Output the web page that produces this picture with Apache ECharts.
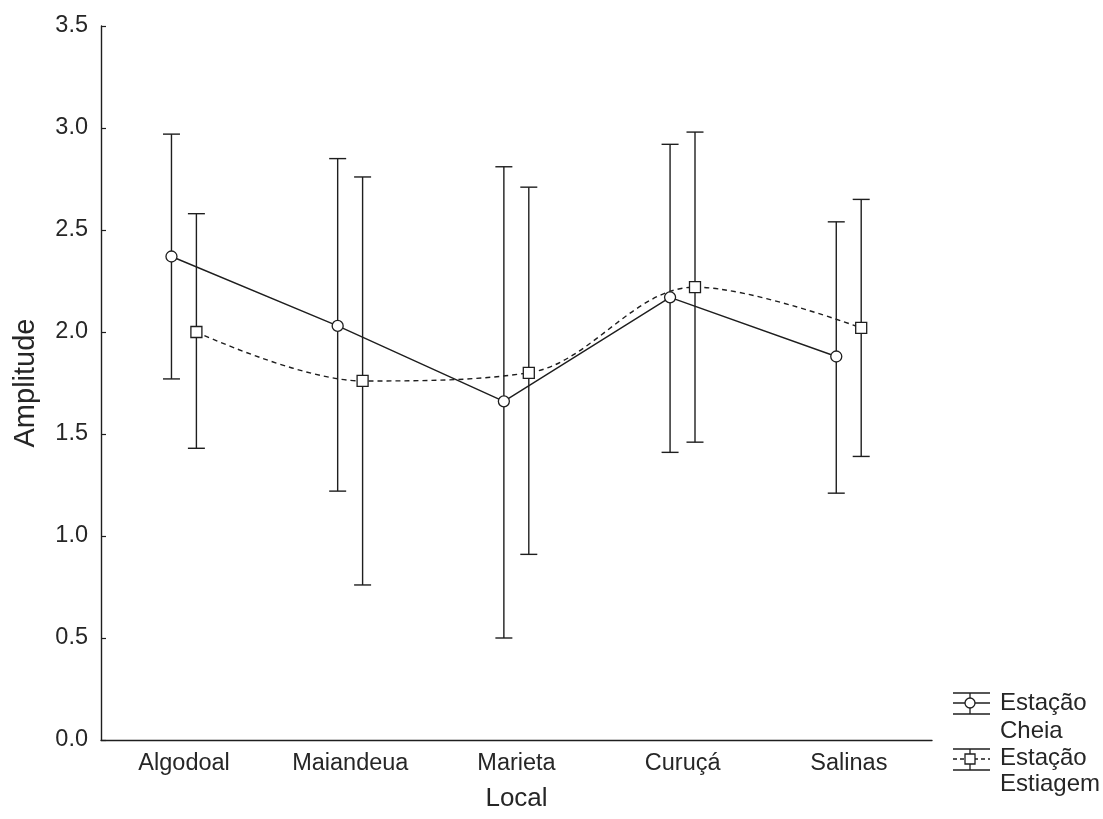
<!DOCTYPE html>
<html>
<head>
<meta charset="utf-8">
<script src="https://cdn.jsdelivr.net/npm/echarts@6/dist/echarts.min.js"></script>
<style>
html,body{margin:0;padding:0;background:#fff;}
#chart{width:1103px;height:819px;}
</style>
</head>
<body>
<div id="chart"></div>
<script>
var categories = ['Algodoal', 'Maiandeua', 'Marieta', 'Curuçá', 'Salinas'];
var cheiaMean  = [2.37, 2.03, 1.66, 2.17, 1.88];
var cheiaUpper = [2.97, 2.85, 2.81, 2.92, 2.54];
var cheiaLower = [1.77, 1.22, 0.50, 1.41, 1.21];
var estiMean   = [2.00, 1.76, 1.80, 2.22, 2.02];
var estiUpper  = [2.58, 2.76, 2.71, 2.98, 2.65];
var estiLower  = [1.43, 0.76, 0.91, 1.46, 1.39];
var yTicks = [0, 0.5, 1.0, 1.5, 2.0, 2.5, 3.0, 3.5];

var FONT = '"Liberation Sans", Arial, sans-serif';
var INK = '#1e1e1e';
var TXT = '#262626';
var OFF_CHEIA = -0.076, OFF_ESTI = 0.074;

function pts(mean, off) { return mean.map(function (v, i) { return [i + 1 + off, v]; }); }
function bars(lo, hi, off) { return lo.map(function (v, i) { return [i + 1 + off, v, hi[i]]; }); }

function renderErr(params, api) {
  var x = api.value(0);
  var lo = api.coord([x, api.value(1)]);
  var hi = api.coord([x, api.value(2)]);
  var hw = 8.5;
  var st = { stroke: INK, lineWidth: 1.4 };
  return {
    type: 'group',
    children: [
      { type: 'line', shape: { x1: lo[0], y1: lo[1], x2: hi[0], y2: hi[1] }, style: st },
      { type: 'line', shape: { x1: hi[0] - hw, y1: hi[1], x2: hi[0] + hw, y2: hi[1] }, style: st },
      { type: 'line', shape: { x1: lo[0] - hw, y1: lo[1], x2: lo[0] + hw, y2: lo[1] }, style: st }
    ]
  };
}

var chart = echarts.init(document.getElementById('chart'));
var lx1 = 953, lx2 = 990, lc = 970;
var legendFont = '24px "Liberation Sans", Arial, sans-serif';
chart.setOption({
  animation: false,
  backgroundColor: '#fff',
  grid: { left: 101, right: 171, top: 26, bottom: 79 },
  xAxis: [{
    type: 'category', data: categories, boundaryGap: true,
    axisLine: { lineStyle: { color: INK, width: 1.4 } },
    axisTick: { inside: true, alignWithLabel: true, length: 5, lineStyle: { color: INK, width: 1.2 } },
    axisLabel: { fontSize: 23.5, color: TXT, margin: 12, fontFamily: FONT },
    name: 'Local', nameLocation: 'middle', nameGap: 46,
    nameTextStyle: { fontSize: 26, color: TXT, fontFamily: FONT },
    splitLine: { show: false }
  }, {
    type: 'value', min: 0.5, max: 5.5, show: false
  }],
  yAxis: {
    type: 'value', min: 0, max: 3.5, interval: 0.5,
    axisLine: { show: true, lineStyle: { color: INK, width: 1.4 } },
    axisTick: { show: true, inside: true, length: 5, lineStyle: { color: INK, width: 1.2 } },
    axisLabel: { fontSize: 23.5, color: TXT, margin: 13, fontFamily: FONT,
      formatter: function (v) { return yTicks.indexOf(v) >= 0 ? v.toFixed(1) : ''; } },
    splitLine: { show: false },
    name: 'Amplitude', nameLocation: 'middle', nameGap: 61, nameRotate: 90,
    nameTextStyle: { fontSize: 29, color: TXT, fontFamily: FONT }
  },
  series: [
    { type: 'custom', xAxisIndex: 1, renderItem: renderErr, data: bars(cheiaLower, cheiaUpper, OFF_CHEIA), z: 2, silent: true },
    { type: 'custom', xAxisIndex: 1, renderItem: renderErr, data: bars(estiLower, estiUpper, OFF_ESTI), z: 2, silent: true },
    { type: 'line', xAxisIndex: 1, data: pts(cheiaMean, OFF_CHEIA), symbol: 'circle', symbolSize: 11,
      itemStyle: { color: '#fff', borderColor: INK, borderWidth: 1.3 },
      lineStyle: { color: INK, width: 1.4 }, z: 3 },
    { type: 'line', xAxisIndex: 1, data: pts(estiMean, OFF_ESTI), symbol: 'rect', symbolSize: 11, smooth: 0.35,
      itemStyle: { color: '#fff', borderColor: INK, borderWidth: 1.3 },
      lineStyle: { color: INK, width: 1.4, type: [5, 4] }, z: 3 }
  ],
  graphic: [
    { type: 'line', shape: { x1: lx1, y1: 693, x2: lx2, y2: 693 }, style: { stroke: INK, lineWidth: 1.3 } },
    { type: 'line', shape: { x1: lx1, y1: 714, x2: lx2, y2: 714 }, style: { stroke: INK, lineWidth: 1.3 } },
    { type: 'line', shape: { x1: lc, y1: 693, x2: lc, y2: 714 }, style: { stroke: INK, lineWidth: 1.3 } },
    { type: 'line', shape: { x1: lx1, y1: 703, x2: lx2, y2: 703 }, style: { stroke: INK, lineWidth: 1.3 } },
    { type: 'circle', shape: { cx: lc, cy: 703, r: 5 }, style: { fill: '#fff', stroke: INK, lineWidth: 1.3 } },
    { type: 'text', left: 1000, top: 689, style: { text: 'Estação\nCheia', lineHeight: 28, fill: TXT, font: legendFont } },

    { type: 'line', shape: { x1: lx1, y1: 749, x2: lx2, y2: 749 }, style: { stroke: INK, lineWidth: 1.3 } },
    { type: 'line', shape: { x1: lx1, y1: 770, x2: lx2, y2: 770 }, style: { stroke: INK, lineWidth: 1.3 } },
    { type: 'line', shape: { x1: lc, y1: 749, x2: lc, y2: 770 }, style: { stroke: INK, lineWidth: 1.3 } },
    { type: 'line', shape: { x1: lx1, y1: 759, x2: lx2, y2: 759 }, style: { stroke: INK, lineWidth: 1.3, lineDash: [4, 3] } },
    { type: 'rect', shape: { x: lc - 5, y: 754, width: 10, height: 10 }, style: { fill: '#fff', stroke: INK, lineWidth: 1.3 } },
    { type: 'text', left: 1000, top: 745, style: { text: 'Estação\nEstiagem', lineHeight: 26, fill: TXT, font: legendFont } }
  ]
});
</script>
</body>
</html>
